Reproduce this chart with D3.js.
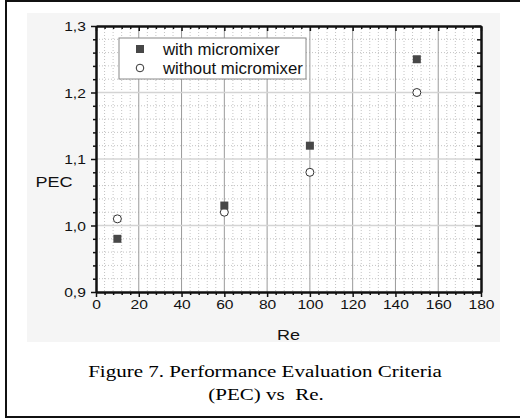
<!DOCTYPE html>
<html>
<head>
<meta charset="utf-8">
<script src="https://cdn.jsdelivr.net/npm/d3@7"></script>
<style>
  body { margin: 0; background: #fff; }
  svg { display: block; }
  text { white-space: pre; }
</style>
</head>
<body>
<svg id="chart" width="520" height="419"></svg>
<script>
// Reynolds numbers and PEC values for both configurations
const reValues = [10, 60, 100, 150];
const pecWithMixer = [0.98, 1.03, 1.12, 1.25];
const pecWithoutMixer = [1.01, 1.02, 1.08, 1.20];
const seriesNames = ["with micromixer", "without micromixer"];
const xTickValues = [0, 20, 40, 60, 80, 100, 120, 140, 160, 180];
const yTickValues = [0.9, 1.0, 1.1, 1.2, 1.3];
const xTitle = "Re";
const yTitle = "PEC";
const captionLines = ["Figure 7. Performance Evaluation Criteria", "(PEC) vs  Re."];

const svg = d3.select("#chart");
const plot = { left: 96, right: 481, top: 26, bottom: 292 };
const SX = 1.2; // horizontal stretch of the lettering

const x = d3.scaleLinear().domain([0, 180]).range([plot.left, plot.right]);
const y = d3.scaleLinear().domain([0.9, 1.3]).range([plot.bottom, plot.top]);
const fmtY = v => d3.format(".1f")(v).replace(".", ",");

// minor subdivisions: 5 per major interval
const xMinor = d3.range(0, 181, 4).filter(v => v % 20 !== 0);
const yMinor = d3.range(0, 21).filter(i => i % 5 !== 0).map(i => 0.9 + i * 0.02);

// outer frame of the figure
svg.append("rect")
  .attr("x", 6).attr("y", 1).attr("width", 520).attr("height", 416)
  .attr("fill", "#fff").attr("stroke", "#111").attr("stroke-width", 2);

// graph page background
svg.append("rect")
  .attr("x", 27).attr("y", 13).attr("width", 473).attr("height", 329)
  .attr("fill", "#f5f5f5");

// plotting area
svg.append("rect")
  .attr("x", plot.left).attr("y", plot.top)
  .attr("width", plot.right - plot.left).attr("height", plot.bottom - plot.top)
  .attr("fill", "#fff");

const grid = svg.append("g");
// minor grid (dotted)
grid.selectAll("line.mx").data(xMinor).join("line")
  .attr("x1", d => x(d)).attr("x2", d => x(d))
  .attr("y1", plot.top).attr("y2", plot.bottom)
  .attr("stroke", "#c4c4c4").attr("stroke-width", 1).attr("stroke-dasharray", "1,2");
grid.selectAll("line.my").data(yMinor).join("line")
  .attr("y1", d => y(d)).attr("y2", d => y(d))
  .attr("x1", plot.left).attr("x2", plot.right)
  .attr("stroke", "#c4c4c4").attr("stroke-width", 1).attr("stroke-dasharray", "1,2");
// major grid
grid.selectAll("line.gx").data(xTickValues.slice(1, -1)).join("line")
  .attr("x1", d => x(d)).attr("x2", d => x(d))
  .attr("y1", plot.top).attr("y2", plot.bottom)
  .attr("stroke", "#9a9a9a").attr("stroke-width", 1);
grid.selectAll("line.gy").data(yTickValues.slice(1, -1)).join("line")
  .attr("y1", d => y(d)).attr("y2", d => y(d))
  .attr("x1", plot.left).attr("x2", plot.right)
  .attr("stroke", "#d4d4d4").attr("stroke-width", 1.5);

// axes
function styleAxis(g) {
  g.select(".domain").attr("stroke", "#111").attr("stroke-width", 2);
  g.selectAll(".tick line").attr("stroke", "#111").attr("stroke-width", 1.5);
}
function noLabels(g) { g.selectAll(".tick text").remove(); }

// bottom
const bx = svg.append("g").attr("transform", `translate(0,${plot.bottom})`)
  .call(d3.axisBottom(x).tickValues(xTickValues).tickSize(5).tickSizeOuter(0));
styleAxis(bx);
bx.selectAll(".tick text")
  .attr("font-family", "'Liberation Sans', Arial, sans-serif").attr("font-size", 13)
  .attr("fill", "#111").attr("y", 8).attr("dy", "0.71em")
  .attr("transform", `scale(${SX},1)`);
svg.append("g").attr("transform", `translate(0,${plot.bottom})`)
  .call(d3.axisBottom(x).tickValues(xMinor).tickSize(3).tickSizeOuter(0))
  .call(styleAxis).call(noLabels);

// top (ticks pointing inward)
svg.append("g").attr("transform", `translate(0,${plot.top})`)
  .call(d3.axisTop(x).tickValues(xTickValues).tickSize(-5).tickSizeOuter(0))
  .call(styleAxis).call(noLabels);
svg.append("g").attr("transform", `translate(0,${plot.top})`)
  .call(d3.axisTop(x).tickValues(xMinor).tickSize(-3).tickSizeOuter(0))
  .call(styleAxis).call(noLabels);

// left
const ly = svg.append("g").attr("transform", `translate(${plot.left},0)`)
  .call(d3.axisLeft(y).tickValues(yTickValues).tickFormat(fmtY).tickSize(5).tickSizeOuter(0));
styleAxis(ly);
ly.selectAll(".tick text")
  .attr("font-family", "'Liberation Sans', Arial, sans-serif").attr("font-size", 13)
  .attr("fill", "#111").attr("x", -8.5).attr("dy", "0.36em")
  .attr("transform", `scale(${SX},1)`);
svg.append("g").attr("transform", `translate(${plot.left},0)`)
  .call(d3.axisLeft(y).tickValues(yMinor).tickSize(3).tickSizeOuter(0))
  .call(styleAxis).call(noLabels);

// right (ticks pointing inward)
svg.append("g").attr("transform", `translate(${plot.right},0)`)
  .call(d3.axisRight(y).tickValues(yTickValues).tickSize(-6).tickSizeOuter(0))
  .call(styleAxis).call(noLabels);
svg.append("g").attr("transform", `translate(${plot.right},0)`)
  .call(d3.axisRight(y).tickValues(yMinor).tickSize(-4).tickSizeOuter(0))
  .call(styleAxis).call(noLabels);

// helper for stretched text
function label(txt, px, py, size, family, anchor, sx, color) {
  svg.append("g").attr("transform", `translate(${px},${py}) scale(${sx},1)`)
    .append("text").text(txt)
    .attr("font-family", family).attr("font-size", size)
    .attr("text-anchor", anchor).attr("fill", color || "#111");
}
const sans = "'Liberation Sans', Arial, sans-serif";
const serif = "'Liberation Serif', 'Times New Roman', serif";

label(xTitle, (plot.left + plot.right) / 2, 340, 15, sans, "middle", SX);
label(yTitle, 54, 187, 15, sans, "middle", SX);

// data markers
const marks = svg.append("g");
const withPts = reValues.map((r, i) => ({ r, v: pecWithMixer[i] }));
const withoutPts = reValues.map((r, i) => ({ r, v: pecWithoutMixer[i] }));
marks.selectAll("circle").data(withoutPts).join("circle")
  .attr("cx", d => x(d.r)).attr("cy", d => y(d.v)).attr("r", 4)
  .attr("fill", "#fff").attr("stroke", "#333").attr("stroke-width", 1);
marks.selectAll("rect").data(withPts).join("rect")
  .attr("x", d => x(d.r) - 4).attr("y", d => y(d.v) - 4)
  .attr("width", 8).attr("height", 8).attr("fill", "#474747");

// legend
const lg = svg.append("g");
lg.append("rect").attr("x", 119).attr("y", 38).attr("width", 187).attr("height", 41)
  .attr("fill", "#fff").attr("stroke", "#888").attr("stroke-width", 1);
lg.append("rect").attr("x", 136).attr("y", 45).attr("width", 8).attr("height", 8).attr("fill", "#474747");
lg.append("circle").attr("cx", 140).attr("cy", 68).attr("r", 3.8)
  .attr("fill", "#fff").attr("stroke", "#333").attr("stroke-width", 1);
label(seriesNames[0], 163, 54.5, 16, sans, "start", 1.05);
label(seriesNames[1], 163, 73.5, 16, sans, "start", 1.05);

// caption
label(captionLines[0], 265, 377, 17.5, serif, "middle", SX, "#000");
label(captionLines[1], 266, 400, 17.5, serif, "middle", SX, "#000");
</script>
</body>
</html>
